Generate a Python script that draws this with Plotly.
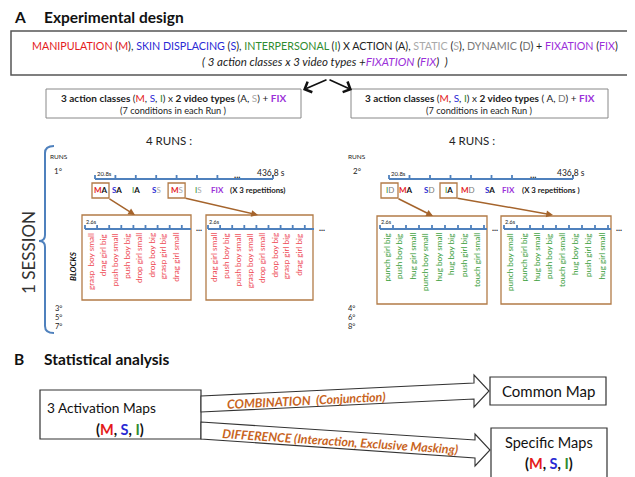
import plotly.graph_objects as go

W, H = 635, 477
FONT = "Lato, 'Open Sans', sans-serif"

RED = "#e41a1c"; BLUE = "#2a2ad4"; GREEN = "#2e8b2e"; LGRAY = "#a9a9a9"; DGRAY = "#7a7a7a"
PURPLE = "#9b30d9"; BRED = "#ee4a55"; BGREEN = "#3a9e3a"; BROWN = "#b27b47"
ARROWBROWN = "#a5642c"; AXBLUE = "#4f81bd"; ORANGE = "#c8641e"; INK = "#222222"

# ---------------- data ----------------
factor_names = ["MANIPULATION", "SKIN DISPLACING", "INTERPERSONAL"]
factor_codes = ["M", "S", "I"]
video_names = ["ACTION", "STATIC", "DYNAMIC"]
video_codes = ["A", "S", "D"]
fixation_name = "FIXATION"
fixation_code = "FIX"

run_odd_conditions = ["MA", "SA", "IA", "SS", "MS", "IS", "FIX"]
run_even_conditions = ["ID", "MA", "SD", "IA", "MD", "SA", "FIX"]
run_odd_boxed = [0, 4]
run_even_boxed = [0, 3]
run_start_label = "20.8s"
run_end_label = "436,8 s"
block_label = "2.6s"
repetitions = "(X 3 repetitions)"
repetitions_even = "(X 3 repetitions )"

odd_blocks_1 = ["grasp  boy small", "drag girl big", "push boy small", "push boy big",
                "drop girl small", "drop boy big", "grasp girl big", "drag girl small"]
odd_blocks_2 = ["drag girl small", "push boy big", "push boy small", "grasp boy small",
                "drop girl small", "drop boy big", "grasp girl big", "drag girl big"]
even_blocks_1 = ["punch girl big", "push boy big", "hug girl small", "punch boy small",
                 "hug boy small", "hug boy big", "push girl big", "touch girl small"]
even_blocks_2 = ["punch boy small", "punch girl big", "hug boy small", "push boy big",
                 "touch girl small", "hug boy big", "push girl big", "hug girl small"]

odd_runs = ["1°", "3°", "5°", "7°"]
even_runs = ["2°", "4°", "6°", "8°"]

maps_in = "3 Activation Maps"
map_common = "Common Map"
map_specific = "Specific Maps"
op_combination = "COMBINATION  (Conjunction)"
op_difference = "DIFFERENCE (Interaction, Exclusive Masking)"

# ---------------- helpers ----------------
shapes = []
annots = []

FCOL = {"M": RED, "S": BLUE, "I": GREEN}
VCOL = {"A": "#111111", "S": LGRAY, "D": DGRAY}


def c(t, col, bold=False):
    s = f"<span style='color:{col}'>{t}</span>"
    return f"<b>{s}</b>" if bold else s


def txt(x, y, text, size=10, color=INK, xa="center", ya="middle", angle=0, family=FONT):
    annots.append(dict(x=x, y=y, xref="x", yref="y", text=text, showarrow=False,
                       font=dict(size=size, color=color, family=family),
                       xanchor=xa, yanchor=ya, textangle=angle, borderpad=0))


def line(x0, y0, x1, y1, color, width=1.0):
    shapes.append(dict(type="line", x0=x0, y0=y0, x1=x1, y1=y1, xref="x", yref="y",
                       line=dict(color=color, width=width)))


def rect(x0, y0, x1, y1, color, width=1.0, fill="rgba(0,0,0,0)"):
    shapes.append(dict(type="rect", x0=x0, y0=y0, x1=x1, y1=y1, xref="x", yref="y",
                       line=dict(color=color, width=width), fillcolor=fill))


def path(d, color, width=1.0, fill="rgba(0,0,0,0)"):
    shapes.append(dict(type="path", path=d, xref="x", yref="y",
                       line=dict(color=color, width=width), fillcolor=fill))


def arrow(x0, y0, x1, y1, color, width=1.3, head=2, size=1.0):
    annots.append(dict(x=x1, y=y1, ax=x0, ay=y0, xref="x", yref="y", axref="x", ayref="y",
                       text="", showarrow=True, arrowhead=head, arrowsize=size,
                       arrowwidth=width, arrowcolor=color, standoff=0, startstandoff=0))


def cond_label(code):
    if code == fixation_code:
        return c(code, PURPLE, True)
    f, v = code[0], code[1]
    return c(f, FCOL[f], f in ("M", "S")) + c(v, VCOL[v], v == "A")


# ---------------- section A ----------------
txt(5, 9, "<b>A</b>", 15.5, "#111", xa="left")
txt(35, 9, "<b>Experimental design</b>", 15.5, "#111", xa="left")

rect(3, 23, 630, 67, "#555555", 1.5)
parts = []
for n, k in zip(factor_names, factor_codes):
    parts.append(f"{c(n, FCOL[k])} ({c(k, FCOL[k])})")
line1 = ", ".join(parts) + " X " + f"{video_names[0]} ({video_codes[0]}), " \
    + f"{c(video_names[1], LGRAY)} ({c(video_codes[1], LGRAY)}), " \
    + f"{c(video_names[2], DGRAY)} ({c(video_codes[2], DGRAY)})" \
    + f" + {c(fixation_name, PURPLE)} ({c(fixation_code, PURPLE)})"
txt(317, 37.5, line1, 10.7, INK)
txt(317, 53, f"<i>( 3 action classes x 3 video types +{c(fixation_name, PURPLE)} ({c(fixation_code, PURPLE)})  )</i>", 11.5, INK)

# chevron double arrow
arrow(320, 71, 295, 82, "#111111", 1.6, 4, 1.4)
arrow(320, 71, 344, 82, "#111111", 1.6, 4, 1.4)

msi = f"({c('M', RED)}, {c('S', BLUE)}, {c('I', GREEN)})"
rect(38, 81, 293, 110, "#888888", 1)
rect(343, 81, 600, 110, "#888888", 1)
txt(165.5, 89.5, f"<b>3 action classes</b> {msi} x <b>2 video types</b> (A, {c('S', LGRAY)}) + {c('FIX', PURPLE, True)}", 10, INK)
txt(165.5, 102, "(7 conditions in each Run )", 9.2, INK)
txt(471.5, 89.5, f"<b>3 action classes</b> {msi} x <b>2 video types</b> ( A, {c('D', DGRAY)}) + {c('FIX', PURPLE, True)}", 10, INK)
txt(471.5, 102, "(7 conditions in each Run )", 9.2, INK)

txt(161, 132, "4 RUNS :", 11.5, INK)
txt(464, 132, "4 RUNS :", 11.5, INK)

# brace + session label
path("M 46 138 Q 37 138 37 145 L 37 227 Q 37 233 31 233 Q 37 233 37 239 L 37 318 Q 37 325 46 325",
     AXBLUE, 2)
txt(20, 245, "1 SESSION", 17, "#333333", angle=-90)


def run_panel(x0, x_end, step, conds, offs, boxed, runs_col, run_labels, rep, rep_x,
              blocks, block_boxes, block_y, block_step, block_color, arrow_targets):
    ay = 171
    ticks = [x0 + step * i for i in range(len(conds))] + [x_end]
    line(x0, ay, x_end, ay, AXBLUE, 1.8)
    for t in ticks:
        line(t, ay - 4, t, ay, AXBLUE, 1.8)
    txt(x0 + 1, 165, run_start_label, 6, INK, xa="left")
    txt(ticks[-2] + (x_end - ticks[-2]) * 0.35, 166, "<b>...</b>", 9, INK)
    txt(x_end - 2, 165, run_end_label, 8.5, INK)
    centers = []
    for i, code in enumerate(conds):
        cx = ticks[i] + offs[i]
        centers.append(cx)
        txt(cx, 182, cond_label(code), 8, INK)
        if i in boxed:
            rect(cx - 8.5, 175, cx + 8.5, 190, BROWN, 1.3)
    txt(rep_x, 182, f"<b>{rep}</b>", 7.8, INK, xa="left")
    # run numbers
    txt(runs_col[0], 148, "RUNS", 6.5, INK, xa="left")
    txt(runs_col[1], 163, run_labels[0], 8, INK)
    for j, lab in enumerate(run_labels[1:]):
        txt(runs_col[2], 300 + 9 * j, lab, 7.5, INK)
    # arrows from boxed conditions
    for i, (tx, ty) in zip(boxed, arrow_targets):
        arrow(centers[i] + 7.5, 190, tx, ty, ARROWBROWN, 1.5, 2, 0.9)
    # blocks
    for (bx0, bx1), (ax0, ax1), labels in zip(block_boxes[0], block_boxes[1], blocks):
        rect(bx0, block_y[0], bx1, block_y[1], BROWN, 1.3)
        by = 221
        line(ax0, by, ax1, by, AXBLUE, 1.8)
        bt = [ax0 + block_step * k for k in range(len(labels) + 1)]
        for t in bt:
            line(t, by - 4, t, by, AXBLUE, 1.8)
        txt(ax0, 214, block_label, 5.5, INK, xa="left")
        txt(ax1 + 8, 220, "<b>...</b>", 8.5, INK)
        for k, lab in enumerate(labels):
            txt(bt[k] + block_step / 2 - 0.5, 224, lab, 8.2, block_color, ya="top", angle=-90)


run_panel(87, 265, 20.4, run_odd_conditions, [5.5, 2, 0, 0, 0, 1, 0], run_odd_boxed,
          (41, 50, 50), odd_runs, repetitions, 221, [odd_blocks_1, odd_blocks_2],
          ([(74, 183), (198, 305)], [(77, 183), (200, 306)]), (207, 292), 12.1, BRED,
          [(127, 207), (250, 207)])
run_panel(381, 565, 20.5, run_even_conditions, [0.5, -4, -1, -2, -3, -1.5, -4], run_even_boxed,
          (339, 349, 343), even_runs, repetitions_even, 513, [even_blocks_1, even_blocks_2],
          ([(369, 479), (493, 603)], [(372, 479), (496, 603)]), (208, 296), 13.0, BGREEN,
          [(425, 208), (545, 207)])

txt(65, 258, "<b><i>BLOCKS</i></b>", 8, "#111", angle=-90)

# ---------------- section B ----------------
txt(5, 351, "<b>B</b>", 15.5, "#111", xa="left")
txt(35, 351, "<b>Statistical analysis</b>", 15.5, "#111", xa="left")

rect(32, 382, 193, 431, "#333333", 1.2)
txt(38, 399, maps_in, 13.7, "#111", xa="left")
txt(112, 421, f"<b>{msi}</b>", 14.5, "#111")

path("M 193 388 L 466 375 L 466 367 L 481 383 L 466 399 L 466 391 L 193 404 Z", "#333333", 1.1, "white")
path("M 193 414 L 467 432 L 467 426 L 482 442 L 467 458 L 467 450 L 193 431 Z", "#333333", 1.1, "white")
txt(298, 392, f"<b><i>{op_combination}</i></b>", 12.4, ORANGE, angle=-2.8)
txt(332, 433, f"<b><i>{op_difference}</i></b>", 12.4, ORANGE, angle=3.9)

rect(482, 369, 598, 397, "#333333", 1.2)
txt(540, 383, map_common, 15, "#111")
rect(483, 420, 599, 470, "#333333", 1.2)
txt(541, 434, map_specific, 14.5, "#111")
txt(541, 455, f"<b>{msi}</b>", 14.5, "#111")

fig = go.Figure()
fig.update_layout(width=W, height=H, margin=dict(l=0, r=0, t=0, b=0), autosize=False,
                  paper_bgcolor="white", plot_bgcolor="white",
                  xaxis=dict(range=[0, W], visible=False, fixedrange=True),
                  yaxis=dict(range=[H, 0], visible=False, fixedrange=True),
                  shapes=shapes, annotations=annots, showlegend=False)
fig.write_html("out.html", config={"displayModeBar": False})
